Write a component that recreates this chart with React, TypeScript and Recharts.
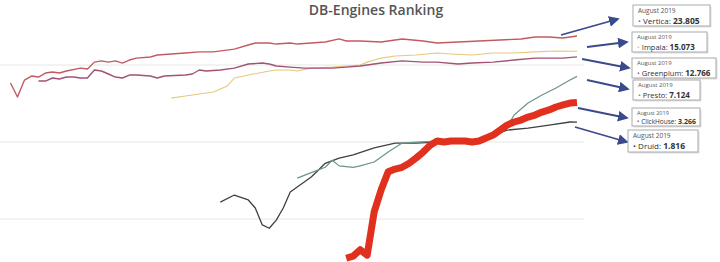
import React from "react";
import {
  Line,
  LineChart,
  ReferenceLine,
  XAxis,
  YAxis,
} from "recharts";

// month index counted from Nov 2012, last point = August 2019
const verticaMonths = [0, 1, 2, 3, 4, 5, 6, 7, 8, 10, 11, 12, 13, 14, 15, 16, 17, 18, 20, 21, 23, 25, 27, 29, 32, 34, 35, 37, 38, 40, 41, 43, 45, 47, 48, 50, 53, 56, 59, 61, 64, 67, 70, 73, 75, 77, 79, 80, 81];
const verticaScores = [5.83, 3.84, 6.38, 7.19, 6.98, 7.87, 8.11, 7.87, 8.36, 9.1, 8.87, 10.9, 11.3, 10.9, 11.3, 10.6, 11.6, 12.3, 12.7, 13.5, 13.9, 14.3, 14.8, 14.8, 16.1, 18.2, 19.3, 19.3, 18.7, 19.3, 18.7, 19.3, 19.9, 21.8, 20.5, 20.5, 19.9, 21.8, 20.5, 19.3, 19.9, 20.5, 21.1, 21.8, 23.1, 23.1, 22.4, 23.1, 23.805];

const greenplumMonths = [4, 5, 6, 7, 8, 9, 10, 11, 12, 13, 14, 15, 16, 17, 18, 20, 21, 22, 25, 26, 27, 28, 30, 32, 34, 36, 37, 38, 40, 42, 44, 46, 48, 50, 53, 56, 59, 61, 64, 66, 69, 72, 75, 77, 79, 81];
const greenplumScores = [6.19, 6.19, 6.78, 6.58, 6.98, 6.98, 6.78, 6.78, 8.61, 8.36, 7.64, 6.98, 6.78, 7.41, 7.41, 7.19, 6.78, 7.19, 7.41, 7.64, 8.61, 8.36, 8.61, 9.1, 10.3, 10.6, 10.3, 9.7, 9.4, 9.1, 9.1, 9.1, 9.4, 9.7, 10.6, 11.3, 10.9, 10.9, 10.3, 10.6, 10.9, 11.6, 12.3, 12.3, 12.3, 12.766];

const impalaMonths = [23, 25, 27, 29, 31, 32, 34, 37, 38, 40, 41, 43, 46, 50, 51, 53, 55, 58, 61, 63, 66, 69, 72, 75, 78, 81];
const impalaScores = [3.72, 3.95, 4.2, 4.46, 5.33, 6.78, 7.41, 8.36, 8.61, 8.61, 8.36, 9.1, 9.4, 10, 10.9, 12.3, 13.1, 13.5, 14.3, 13.9, 13.5, 14.3, 14.3, 14.8, 15.2, 15.073];

const druidMonths = [30, 32, 34, 35, 36, 37, 38, 39, 40, 41, 43, 44, 45, 47, 49, 52, 55, 58, 61, 64, 67, 69, 71, 74, 77, 80, 81];
const druidScores = [0.166, 0.205, 0.177, 0.139, 0.084, 0.076, 0.097, 0.139, 0.224, 0.26, 0.351, 0.43, 0.53, 0.62, 0.68, 0.84, 0.97, 0.97, 1.0, 1.03, 1.0, 1.23, 1.43, 1.52, 1.66, 1.82, 1.816];

const prestoMonths = [41, 43, 45, 46, 47, 49, 50, 52, 54, 56, 58, 61, 64, 67, 69, 71, 72, 74, 76, 78, 80, 81];
const prestoScores = [0.34, 0.4, 0.47, 0.58, 0.49, 0.47, 0.49, 0.55, 0.74, 0.97, 1.0, 1.03, 1.03, 1.03, 1.23, 1.57, 2.24, 3.21, 4.07, 5.02, 6.38, 7.124];

const clickhouseMonths = [48, 49, 50, 51, 52, 53, 54, 55, 56, 57, 58, 59, 60, 61, 62, 63, 64, 65, 66, 67, 68, 69, 70, 71, 72, 73, 74, 75, 76, 77, 78, 79, 80, 81];
const clickhouseScores = [0.031, 0.033, 0.04, 0.034, 0.124, 0.24, 0.41, 0.446, 0.47, 0.53, 0.62, 0.74, 0.91, 1.03, 1.0, 1.03, 1.03, 1.03, 1.0, 1.03, 1.13, 1.23, 1.43, 1.66, 1.82, 1.93, 2.11, 2.24, 2.45, 2.61, 2.85, 3.03, 3.21, 3.266];

const gridValues = [10, 1, 0.1];
const lastMonthLabel = "August 2019";

const toPoints = (months: number[], scores: number[]) =>
  months.map((m, i) => ({ m, v: scores[i] }));

const series = [
  { name: "Vertica", data: toPoints(verticaMonths, verticaScores), color: "#c25b60", width: 1.4 },
  { name: "Impala", data: toPoints(impalaMonths, impalaScores), color: "#e4c87c", width: 1.1 },
  { name: "Greenplum", data: toPoints(greenplumMonths, greenplumScores), color: "#a25273", width: 1.4 },
  { name: "Druid", data: toPoints(druidMonths, druidScores), color: "#404040", width: 1.3 },
  { name: "Presto", data: toPoints(prestoMonths, prestoScores), color: "#6b938a", width: 1.2 },
  { name: "ClickHouse", data: toPoints(clickhouseMonths, clickhouseScores), color: "#e2301f", width: 7 },
];

// callout boxes + arrows (annotation layout only)
// box: x, y, w, h ; a = date font size, b = name font size
const callouts = [
  { name: "Vertica", box: [633, 5, 77, 21], from: [561, 35], to: [618, 19], a: 6.5, b: 8 },
  { name: "Impala", box: [632, 32, 75, 20], from: [587, 47], to: [627, 42], a: 6, b: 7.5 },
  { name: "Greenplum", box: [632, 58, 84, 20], from: [582, 59], to: [629, 68], a: 6, b: 7.5 },
  { name: "Presto", box: [633, 80, 67, 20], from: [587, 80], to: [628, 89], a: 6, b: 7.5 },
  { name: "ClickHouse", box: [632, 108, 68, 18], from: [578, 108], to: [627, 118], a: 5.5, b: 6.5 },
  { name: "Druid", box: [628, 130, 70, 22], from: [575, 127], to: [627, 142], a: 6.5, b: 8 },
];

const font = "'Open Sans', 'DejaVu Sans', sans-serif";

function Overlay() {
  return (
    <svg
      width={720}
      height={262}
      style={{ position: "absolute", left: 0, top: 0, pointerEvents: "none" }}
    >
      <defs>
        <marker id="ah" markerWidth="6" markerHeight="6" refX="5" refY="3" orient="auto">
          <path d="M0,0 L6,3 L0,6 Z" fill="#3b4a8c" />
        </marker>
      </defs>
      <text
        x={376}
        y={15}
        textAnchor="middle"
        fontFamily={font}
        fontSize={14}
        fontWeight={600}
        fill="#555"
      >
        DB-Engines Ranking
      </text>
      {callouts.map((c) => {
        const s = series.find((d) => d.name === c.name)!;
        const last = s.data[s.data.length - 1].v;
        const [x, y, w, h] = c.box;
        const base1 = y + 1 + 1.07 * c.a;
        const base2 = base1 + 0.29 * c.a + 1.07 * (c.b + 0.5) + 0.3;
        return (
          <g key={c.name}>
            <line
              x1={c.from[0]}
              y1={c.from[1]}
              x2={c.to[0]}
              y2={c.to[1]}
              stroke="#3b4a8c"
              strokeWidth={1.8}
              markerEnd="url(#ah)"
            />
            <rect x={x + 1.5} y={y + 1.5} width={w} height={h} fill="#e0e0e0" />
            <rect x={x} y={y} width={w} height={h} fill="#fff" stroke="#aaa" strokeWidth={1} />
            <text x={x + 5} y={base1} fontFamily={font} fontSize={c.a} fill="#555">
              {lastMonthLabel}
            </text>
            <text x={x + 5} y={base2} fontFamily={font} fontSize={c.b} fill="#333">
              <tspan fill={s.color}>•</tspan>
              <tspan> {c.name}: </tspan>
              <tspan fontWeight={700} fontSize={c.b + 0.5}>
                {last.toFixed(3)}
              </tspan>
            </text>
          </g>
        );
      })}
    </svg>
  );
}

export default function App() {
  return (
    <div
      style={{
        position: "absolute",
        left: 0,
        top: 0,
        width: 720,
        height: 262,
        background: "#fff",
        overflow: "hidden",
      }}
    >
      <LineChart
        width={720}
        height={262}
        margin={{ top: 20, right: 136, bottom: 0, left: 0 }}
      >
        <XAxis
          type="number"
          dataKey="m"
          domain={[-1.5, 82]}
          allowDataOverflow
          hide
        />
        <YAxis
          type="number"
          scale="log"
          domain={[0.0277, 38.4]}
          allowDataOverflow
          hide
        />
        {gridValues.map((g) => (
          <ReferenceLine key={g} y={g} stroke="#e6e6e6" strokeWidth={1} />
        ))}
        {series.map((s) => (
          <Line
            key={s.name}
            data={s.data}
            dataKey="v"
            name={s.name}
            type="linear"
            stroke={s.color}
            strokeWidth={s.width}
            strokeLinejoin="round"
            dot={false}
            activeDot={false}
            isAnimationActive={false}
          />
        ))}
      </LineChart>
      <Overlay />
    </div>
  );
}
